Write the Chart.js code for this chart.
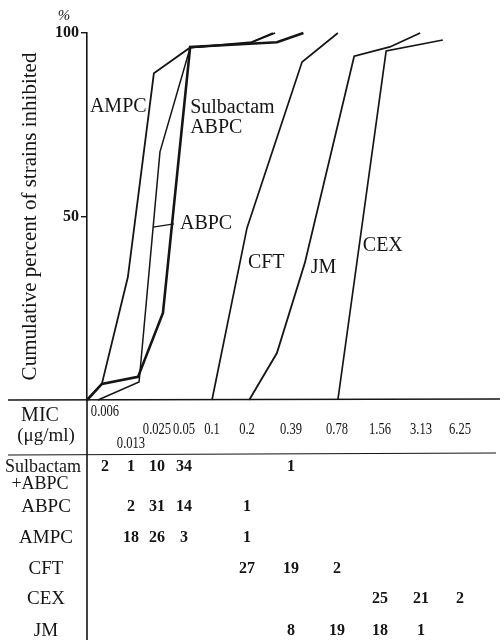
<!DOCTYPE html>
<html>
<head>
<meta charset="utf-8">
<script src="https://cdn.jsdelivr.net/npm/chart.js@4.4.1/dist/chart.umd.min.js"></script>
<style>
  html, body { margin: 0; background: #fff; }
  #wrap { width: 504px; height: 640px; position: relative; }
</style>
</head>
<body>
<div id="wrap"><canvas id="micChart"></canvas></div>
<script>
// MIC dilution steps (index 0 = 0.006 ug/ml)
const micLabels = ['0.006', '0.013', '0.025', '0.05', '0.1', '0.2', '0.39', '0.78', '1.56', '3.13', '6.25'];

// number of strains per MIC step
const rowNames = [['Sulbactam', '+ABPC'], ['ABPC'], ['AMPC'], ['CFT'], ['CEX'], ['JM']];
const sulbCounts = [2, 1, 10, 34, null, null, 1, null, null, null, null];
const abpcCounts = [null, 2, 31, 14, null, 1, null, null, null, null, null];
const ampcCounts = [null, 18, 26, 3, null, 1, null, null, null, null, null];
const cftCounts = [null, null, null, null, null, 27, 19, 2, null, null, null];
const cexCounts = [null, null, null, null, null, null, null, null, 25, 21, 2];
const jmCounts = [null, null, null, null, null, null, 8, 19, 18, 1, null];

// cumulative curves as drawn: x = MIC step, y = % of strains inhibited
const sulbX = [-0.69, -0.12, 1.27, 2.22, 3.22, 5.68, 6.27];
const sulbY = [0, 4.4, 6.3, 23.7, 96.2, 97.5, 100];
const abpcX = [-0.27, 1.31, 2.11, 3.22, 5.07, 5.64];
const abpcY = [0, 4.9, 67.6, 96, 97.3, 100];
const ampcX = [-0.69, -0.12, 0.88, 1.88, 3.21, 5.11, 5.59];
const ampcY = [0, 4.4, 33.5, 89, 96, 97.5, 100];
const cftX = [4.0, 5.0, 6.24, 7.02];
const cftY = [0, 46.9, 92.1, 100];
const jmX = [5.05, 5.68, 6.30, 7.40, 8.24, 8.98];
const jmY = [0, 12.8, 37.3, 93.7, 96.2, 100];
const cexX = [7.02, 8.15, 9.56];
const cexY = [0, 95.1, 98.1];

// layout: where each MIC step sits along the x axis (axis runs 0..413)
const stepPos = [18, 44, 70, 97, 125, 160, 204, 250, 293, 334, 373];
const ink = '#151515';
const serif = "'Liberation Serif', 'DejaVu Serif', serif";

function micPos(v) {
    var n = stepPos.length - 1;
    if (v <= 0) return stepPos[0] + v * (stepPos[1] - stepPos[0]);
    if (v >= n) return stepPos[n] + (v - n) * (stepPos[n] - stepPos[n - 1]);
    var i = Math.floor(v);
    return stepPos[i] + (v - i) * (stepPos[i + 1] - stepPos[i]);
}

function curve(xs, ys, width) {
    return {
        data: xs.map(function (x, i) { return { x: micPos(x), y: ys[i] }; }),
        borderColor: ink,
        borderWidth: width,
        pointRadius: 0,
        tension: 0,
        clip: false
    };
}

// curve labels, placed in (MIC step, %) coordinates
const curveNotes = [
    { text: 'AMPC', x: -0.58, y: 80 },
    { text: 'Sulbactam', x: 3.22, y: 79.6 },
    { text: 'ABPC', x: 3.22, y: 74.1 },
    { text: 'ABPC', x: 2.85, y: 48 },
    { text: 'CFT', x: 5.02, y: 37.3 },
    { text: 'JM', x: 6.43, y: 36 },
    { text: 'CEX', x: 7.6, y: 42 }
];

function text(ctx, s, x, y, font, align, sx) {
    ctx.save();
    ctx.font = font;
    ctx.textAlign = align || 'center';
    ctx.textBaseline = 'middle';
    ctx.translate(x, y);
    ctx.scale(sx || 1, 1);
    ctx.fillText(s, 0, 0);
    ctx.restore();
}

const tablePlugin = {
    id: 'micTable',
    afterDraw: function (chart) {
        var ctx = chart.ctx;
        var xs = chart.scales.x, ys = chart.scales.y;
        var area = chart.chartArea;
        var px = function (v) { return xs.getPixelForValue(micPos(v)); };
        var py = function (v) { return ys.getPixelForValue(v); };

        ctx.save();
        ctx.fillStyle = ink;
        ctx.strokeStyle = ink;

        // baseline, table rules
        ctx.lineWidth = 1.6;
        ctx.beginPath();
        ctx.moveTo(8, area.bottom);
        ctx.lineTo(500, area.bottom - 1);
        ctx.stroke();
        ctx.beginPath();
        ctx.moveTo(area.left, area.bottom);
        ctx.lineTo(area.left, 640);
        ctx.stroke();
        ctx.lineWidth = 1.2;
        ctx.beginPath();
        ctx.moveTo(8, 455);
        ctx.lineTo(496, 453);
        ctx.stroke();

        // % sign above the axis
        text(ctx, '%', 64, 16, 'italic 15px ' + serif, 'center');

        // curve labels
        curveNotes.forEach(function (n) {
            text(ctx, n.text, px(n.x), py(n.y), '20px ' + serif, 'left');
        });
        // leader for the plain ABPC curve
        ctx.lineWidth = 1.2;
        ctx.beginPath();
        ctx.moveTo(px(1.85), py(47.1));
        ctx.lineTo(px(2.63), py(48));
        ctx.stroke();

        // MIC header
        text(ctx, 'MIC', 40, 416, '20px ' + serif, 'center');
        text(ctx, '(\u03bcg/ml)', 46, 436, '19px ' + serif, 'center');
        micLabels.forEach(function (lab, i) {
            var y = i === 0 ? 412 : (i === 1 ? 444 : 430);
            text(ctx, lab, px(i), y, '17px ' + serif, 'center', 0.74);
        });

        // strain counts
        var rows = [sulbCounts, abpcCounts, ampcCounts, cftCounts, cexCounts, jmCounts];
        var rowY = [467, 507, 538, 569, 599, 631];
        rows.forEach(function (counts, r) {
            var names = rowNames[r];
            if (names.length === 2) {
                text(ctx, names[0], 43, rowY[r], '18px ' + serif, 'center');
                text(ctx, names[1], 40, rowY[r] + 17, '18px ' + serif, 'center');
            } else {
                text(ctx, names[0], 46, rowY[r], '19px ' + serif, 'center');
            }
            counts.forEach(function (c, i) {
                if (c !== null) text(ctx, String(c), px(i), rowY[r], 'bold 16px ' + serif, 'center');
            });
        });
        ctx.restore();
    }
};

new Chart(document.getElementById('micChart'), {
    type: 'line',
    data: {
        datasets: [
            curve(sulbX, sulbY, 2.6),
            curve(abpcX, abpcY, 1.5),
            curve(ampcX, ampcY, 1.8),
            curve(cftX, cftY, 1.7),
            curve(jmX, jmY, 1.8),
            curve(cexX, cexY, 1.7)
        ]
    },
    options: {
        responsive: true,
        maintainAspectRatio: false,
        animation: false,
        layout: { padding: { left: 0, top: 33, right: 4, bottom: 240 } },
        plugins: { legend: { display: false }, tooltip: { enabled: false } },
        scales: {
            x: { type: 'linear', min: 0, max: 413, display: false },
            y: {
                min: 0,
                max: 100,
                afterBuildTicks: function (s) { s.ticks = [{ value: 50 }, { value: 100 }]; },
                afterFit: function (s) { s.width = 87; },
                ticks: { color: ink, padding: 2, font: { family: serif, size: 16, weight: 'bold' } },
                grid: { display: true, drawOnChartArea: false, drawTicks: true, tickLength: 6, color: ink, lineWidth: 1.4 },
                border: { display: true, color: ink, width: 1.6 },
                title: {
                    display: true,
                    text: 'Cumulative percent of strains inhibited',
                    color: ink,
                    font: { family: serif, size: 21 },
                    padding: { top: 18, bottom: 0 }
                }
            }
        }
    },
    plugins: [tablePlugin]
});
</script>
</body>
</html>
